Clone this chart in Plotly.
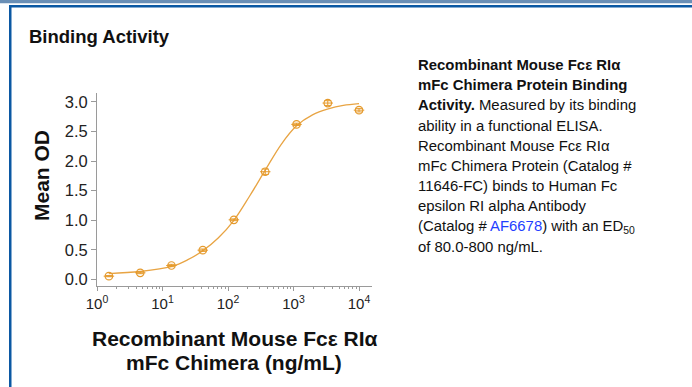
import plotly.graph_objects as go

# ---- data ----
conc = [1.52, 4.57, 13.7, 41.2, 123, 370, 1111, 3333, 10000]
mean_od = [0.056, 0.113, 0.236, 0.495, 1.008, 1.82, 2.62, 2.98, 2.86]
od_err = [0.01, 0.015, 0.02, 0.02, 0.015, 0.045, 0.02, 0.04, 0.03]

fit_conc = [1.51, 4.57, 13.8, 24, 40.7, 70.8, 123, 214, 372, 646, 1122, 1950, 3388, 5754, 10000]
fit_od = [0.10, 0.135, 0.22, 0.33, 0.48, 0.70, 1.00, 1.41, 1.85, 2.28, 2.60, 2.78, 2.88, 2.94, 2.97]

x_tickvals = [1, 10, 100, 1000, 10000]
x_ticktext = ["10<sup>0</sup>", "10<sup>1</sup>", "10<sup>2</sup>", "10<sup>3</sup>", "10<sup>4</sup>"]
y_tickvals = [0.0, 0.5, 1.0, 1.5, 2.0, 2.5, 3.0]
y_ticktext = ["0.0", "0.5", "1.0", "1.5", "2.0", "2.5", "3.0"]
minor_vals = [m * d for d in [1, 10, 100, 1000] for m in range(2, 10)] + [20000]

W, H = 692, 387
L, R, T, B = 97, 372, 93, 286
ORANGE = "#E59A2C"
FONT = "Liberation Sans, Arial, sans-serif"

def px(x):
    return (x - L) / (R - L)

def py(y):
    return (B - y) / (B - T)

fig = go.Figure()
fig.add_trace(go.Scatter(x=fit_conc, y=fit_od, mode="lines", line=dict(color="#E8A443", width=1.3, shape="spline"),
                         hoverinfo="skip", showlegend=False))
fig.add_trace(go.Scatter(x=conc, y=mean_od, mode="markers",
                         marker=dict(symbol="circle-open", size=7.5, color=ORANGE, line=dict(width=1.2, color=ORANGE)),
                         error_y=dict(type="data", array=od_err, color=ORANGE, thickness=1, width=3.5),
                         showlegend=False))
fig.add_trace(go.Scatter(x=conc, y=mean_od, mode="markers",
                         marker=dict(symbol="line-ew", size=7.5, color=ORANGE, line=dict(width=1, color=ORANGE)),
                         hoverinfo="skip", showlegend=False))

fig.update_xaxes(type="log", range=[0, 4.198], tickvals=x_tickvals, ticktext=x_ticktext,
                 showgrid=False, zeroline=False, showline=True, linecolor="#9a9a9a", linewidth=1,
                 ticks="outside", ticklen=4, tickcolor="#9a9a9a",
                 minor=dict(tickvals=minor_vals, ticks="outside", ticklen=2, tickcolor="#9a9a9a", showgrid=False),
                 tickfont=dict(family=FONT, size=15, color="#222222"))
fig.update_yaxes(range=[-0.11, 3.15], tickvals=y_tickvals, ticktext=y_ticktext,
                 showgrid=False, zeroline=False, showline=True, linecolor="#9a9a9a", linewidth=1,
                 ticks="outside", ticklen=5, tickcolor="#9a9a9a",
                 tickfont=dict(family=FONT, size=16.5, color="#222222"))

shapes = [
    dict(type="rect", xref="paper", yref="paper", x0=px(0), x1=px(W), y0=py(0), y1=py(3.2),
         fillcolor="#6a8fb6", line=dict(width=0), layer="above"),
    dict(type="rect", xref="paper", yref="paper", x0=px(9), x1=px(W), y0=py(5), y1=py(7.5),
         fillcolor="#0b58a3", line=dict(width=0), layer="above"),
    dict(type="rect", xref="paper", yref="paper", x0=px(9), x1=px(11.5), y0=py(5), y1=py(H),
         fillcolor="#0b58a3", line=dict(width=0), layer="above"),
]

ann = []
def text(x, y, s, size, bold=False, xanchor="left", color="#111111", angle=0):
    ann.append(dict(xref="paper", yref="paper", x=px(x), y=py(y), text=(f"<b>{s}</b>" if bold else s),
                    showarrow=False, xanchor=xanchor, yanchor="middle", textangle=angle,
                    font=dict(family=FONT, size=size, color=color)))

text(27, 36, "Binding Activity", 18.5, bold=True)
text(41, 176, "Mean OD", 21, bold=True, xanchor="center", angle=-90)
text(234, 338, "Recombinant Mouse Fcε RIα", 21, bold=True, xanchor="center")
text(234, 362, "mFc Chimera (ng/mL)", 21, bold=True, xanchor="center")

right_lines = [
    "<b>Recombinant Mouse Fcε RIα</b>",
    "<b>mFc Chimera Protein Binding</b>",
    "<b>Activity.</b> Measured by its binding",
    "ability in a functional ELISA.",
    "Recombinant Mouse Fcε RIα",
    "mFc Chimera Protein (Catalog #",
    "11646-FC) binds to Human Fc",
    "epsilon RI alpha Antibody",
    "(Catalog # <span style='color:#1f3fff'>AF6678</span>) with an ED<sub>50</sub>",
    "of 80.0-800 ng/mL.",
]
for i, s in enumerate(right_lines):
    text(416, 65 + i * 20.2, s, 14.9)

fig.update_layout(width=W, height=H, margin=dict(l=L, r=W - R, t=T, b=H - B),
                  paper_bgcolor="white", plot_bgcolor="white", shapes=shapes, annotations=ann,
                  font=dict(family=FONT))
fig.write_html("out.html", config={"displayModeBar": False},
               post_script="document.body.style.margin='0px';document.body.style.overflow='hidden';")
